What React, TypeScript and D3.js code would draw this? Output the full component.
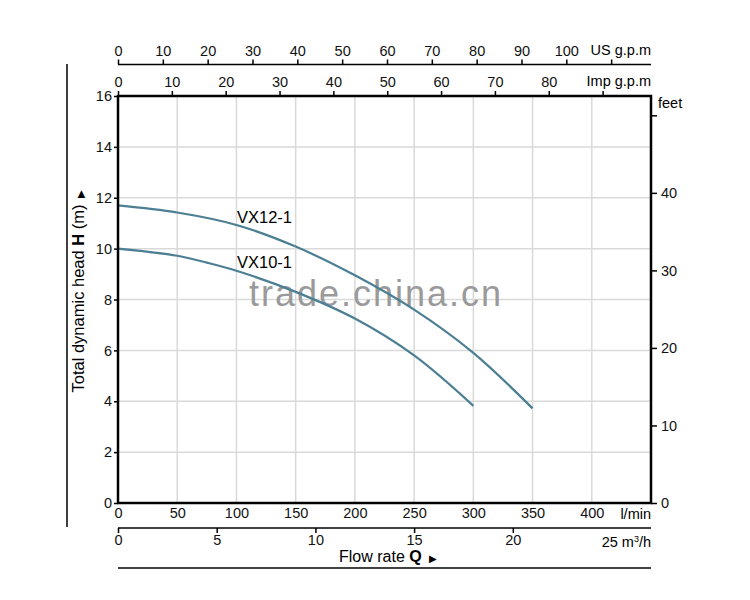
import React, { useEffect, useRef } from "react";
import * as d3 from "d3";

// pump curves, flow in l/min, head in m
const vx12Flow = [0, 50, 100, 150, 200, 250, 300, 350];
const vx12Head = [11.7, 11.42, 10.93, 10.08, 8.95, 7.6, 5.9, 3.72];
const vx10Flow = [0, 50, 75, 100, 150, 200, 250, 300];
const vx10Head = [10.0, 9.72, 9.45, 9.13, 8.3, 7.25, 5.8, 3.82];

const lminTicks = [0, 50, 100, 150, 200, 250, 300, 350, 400];
const headTicks = [0, 2, 4, 6, 8, 10, 12, 14, 16];
const usTicks = [0, 10, 20, 30, 40, 50, 60, 70, 80, 90, 100, 110];
const impTicks = [0, 10, 20, 30, 40, 50, 60, 70, 80, 90];
const m3hTicks = [0, 5, 10, 15, 20];
const feetTicks = [0, 10, 20, 30, 40, 50];

const FONT = "'Liberation Sans', Arial, sans-serif";
const CURVE = "#4c7f94";

const App: React.FC = () => {
  const svgRef = useRef<SVGSVGElement>(null);

  useEffect(() => {
    const svg = d3.select(svgRef.current);
    svg.selectAll("*").remove();

    const left = 118;
    const right = 651;
    const top = 96;
    const bottom = 503;

    const x = d3.scaleLinear().domain([0, 450]).range([left, right]);
    const y = d3.scaleLinear().domain([0, 16]).range([bottom, top]);
    const xUS = d3.scaleLinear().domain([0, 450 / 3.785]).range([left, right]);
    const xImp = d3.scaleLinear().domain([0, 450 / 4.546]).range([left, right]);
    const xM3 = d3.scaleLinear().domain([0, 27]).range([left, right]);
    const yFeet = d3.scaleLinear().domain([0, 16 * 3.2808]).range([bottom, top]);

    const g = svg.append("g").style("font-family", FONT);

    // grid
    g.append("g")
      .selectAll("line")
      .data(lminTicks.slice(1))
      .join("line")
      .attr("x1", (d) => x(d))
      .attr("x2", (d) => x(d))
      .attr("y1", top)
      .attr("y2", bottom)
      .attr("stroke", "#d9d9d9")
      .attr("stroke-width", 1.5);
    g.append("g")
      .selectAll("line")
      .data(headTicks.slice(1, -1))
      .join("line")
      .attr("x1", left)
      .attr("x2", right)
      .attr("y1", (d) => y(d))
      .attr("y2", (d) => y(d))
      .attr("stroke", "#d9d9d9")
      .attr("stroke-width", 1.5);

    // watermark
    g.append("text")
      .attr("x", 376)
      .attr("y", 306)
      .attr("text-anchor", "middle")
      .attr("font-size", 36)
      .attr("letter-spacing", 2)
      .attr("fill", "#9a9a9a")
      .text("trade.china.cn");

    // curves
    const line = d3
      .line<[number, number]>()
      .x((d) => x(d[0]))
      .y((d) => y(d[1]))
      .curve(d3.curveCatmullRom.alpha(0.5));
    const series: [number[], number[]][] = [
      [vx12Flow, vx12Head],
      [vx10Flow, vx10Head],
    ];
    series.forEach(([f, h]) => {
      g.append("path")
        .attr("d", line(f.map((v, i) => [v, h[i]] as [number, number])) || "")
        .attr("fill", "none")
        .attr("stroke", CURVE)
        .attr("stroke-width", 2.2);
    });

    g.append("text").attr("x", 237).attr("y", 223).attr("font-size", 16.5).text("VX12-1");
    g.append("text").attr("x", 237).attr("y", 268).attr("font-size", 16.5).text("VX10-1");

    // plot frame
    g.append("rect")
      .attr("x", left)
      .attr("y", top)
      .attr("width", right - left)
      .attr("height", bottom - top)
      .attr("fill", "none")
      .attr("stroke", "#000")
      .attr("stroke-width", 2.5);

    const styleAxis = (a: d3.Selection<SVGGElement, unknown, null, undefined>) => {
      a.selectAll("text").style("font-family", FONT).attr("font-size", 14.5).attr("fill", "#111");
      a.selectAll("line").attr("stroke", "#000").attr("stroke-width", 1.5);
      a.select(".domain").attr("stroke", "#000").attr("stroke-width", 2);
    };

    // left head axis
    const ay = g
      .append("g")
      .attr("transform", `translate(${left},0)`)
      .call(d3.axisLeft(y).tickValues(headTicks).tickSize(4).tickSizeOuter(0).tickPadding(2));
    ay.select(".domain").remove();
    styleAxis(ay);

    // right feet axis
    const af = g
      .append("g")
      .attr("transform", `translate(${right},0)`)
      .call(
        d3
          .axisRight(yFeet)
          .tickValues(feetTicks)
          .tickSize(6)
          .tickSizeOuter(0)
          .tickPadding(4)
          .tickFormat((d) => (d === 50 ? "" : String(d)))
      );
    af.select(".domain").remove();
    styleAxis(af);
    g.append("text").attr("x", 658).attr("y", 108).attr("font-size", 14.5).text("feet");

    // bottom l/min axis
    const ab = g
      .append("g")
      .attr("transform", `translate(0,${bottom})`)
      .call(d3.axisBottom(x).tickValues(lminTicks).tickSize(0).tickSizeOuter(0).tickPadding(5));
    ab.select(".domain").remove();
    styleAxis(ab);
    g.append("text").attr("x", right).attr("y", 519).attr("text-anchor", "end").attr("font-size", 14.5).text("l/min");

    // m3/h axis
    const am = g
      .append("g")
      .attr("transform", "translate(0,528)")
      .call(d3.axisBottom(xM3).tickValues(m3hTicks).tickSize(5).tickSizeOuter(0).tickPadding(2));
    styleAxis(am);
    am.select(".domain").attr("d", `M${left},0H${right}`).attr("stroke-width", 1.5);
    const m3 = g.append("text").attr("x", right).attr("y", 547).attr("text-anchor", "end").attr("font-size", 14.5);
    m3.append("tspan").text("25 m");
    m3.append("tspan").attr("font-size", 9).attr("dy", -5).text("3");
    m3.append("tspan").attr("dy", 5).text("/h");

    // flow rate label
    const fr = g.append("text").attr("x", 339).attr("y", 562).attr("font-size", 16);
    fr.append("tspan").text("Flow rate ");
    fr.append("tspan").attr("font-weight", "bold").text("Q");
    fr.append("tspan").attr("font-size", 10).attr("dx", 7).text("▶");
    g.append("line").attr("x1", left).attr("x2", right).attr("y1", 568).attr("y2", 568).attr("stroke", "#000").attr("stroke-width", 1.5);

    // US gpm axis
    const aus = g
      .append("g")
      .attr("transform", "translate(0,64.5)")
      .call(
        d3
          .axisTop(xUS)
          .tickValues(usTicks)
          .tickSize(5)
          .tickSizeOuter(0)
          .tickPadding(4)
          .tickFormat((d) => (d === 110 ? "" : String(d)))
      );
    styleAxis(aus);
    aus.select(".domain").attr("d", `M${left},0H${right}`).attr("stroke-width", 1.5);
    g.append("text").attr("x", right).attr("y", 55).attr("text-anchor", "end").attr("font-size", 14.5).text("US g.p.m");

    // Imp gpm axis
    const aimp = g
      .append("g")
      .attr("transform", `translate(0,${top})`)
      .call(
        d3
          .axisTop(xImp)
          .tickValues(impTicks)
          .tickSize(5)
          .tickSizeOuter(0)
          .tickPadding(4)
          .tickFormat((d) => (d === 90 ? "" : String(d)))
      );
    styleAxis(aimp);
    aimp.select(".domain").remove();
    g.append("text").attr("x", right).attr("y", 86).attr("text-anchor", "end").attr("font-size", 14.5).text("Imp g.p.m");

    // left frame line + y title
    g.append("line").attr("x1", 67).attr("x2", 67).attr("y1", 64).attr("y2", 527).attr("stroke", "#000").attr("stroke-width", 1.5);
    const yt = g
      .append("text")
      .attr("transform", "translate(84,291) rotate(-90)")
      .attr("text-anchor", "middle")
      .attr("font-size", 16.5);
    yt.append("tspan").text("Total dynamic head ");
    yt.append("tspan").attr("font-weight", "bold").text("H");
    yt.append("tspan").text(" (m)");
    yt.append("tspan").attr("font-size", 10).attr("dx", 7).text("▶");
  }, []);

  return (
    <svg
      ref={svgRef}
      width={750}
      height={600}
      style={{ position: "absolute", left: 0, top: 0, display: "block" }}
    />
  );
};

export default App;
